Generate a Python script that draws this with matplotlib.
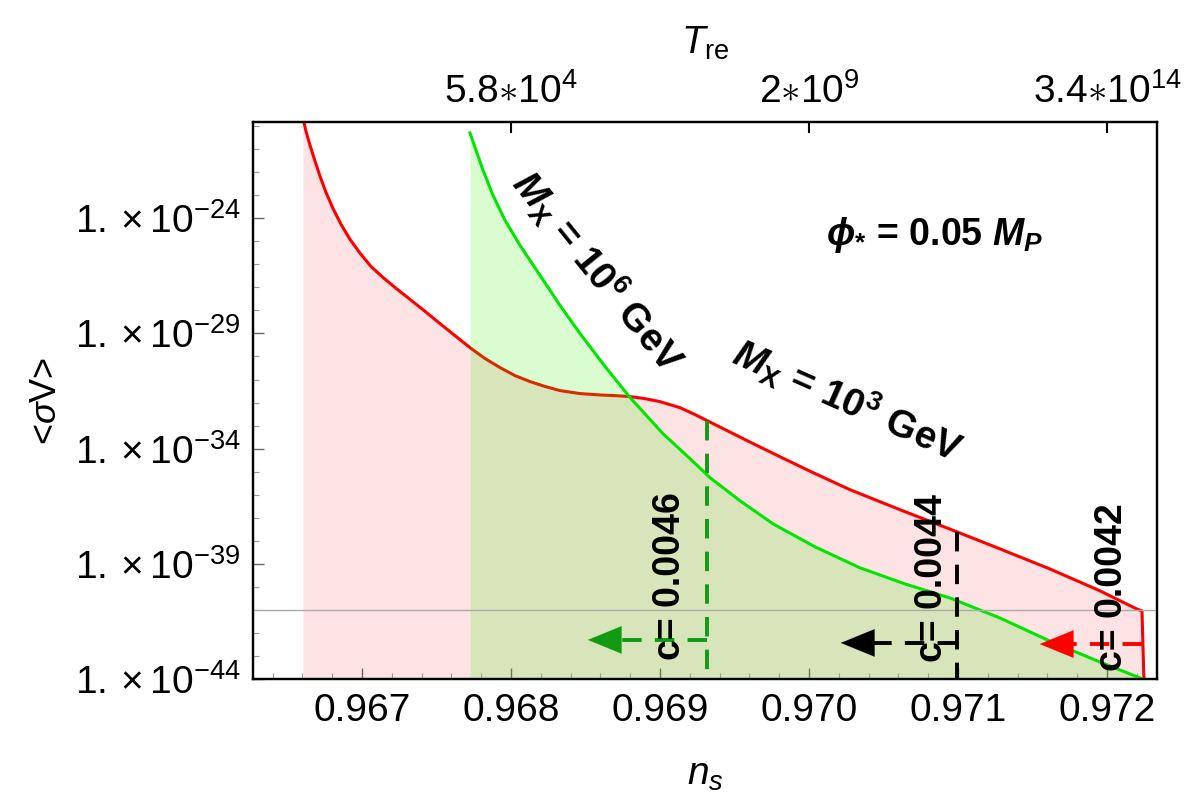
import numpy as np
import matplotlib
matplotlib.use("Agg")
import matplotlib.pyplot as plt
from matplotlib.ticker import FixedLocator, NullFormatter

plt.rcParams["font.family"] = ["Liberation Sans", "DejaVu Sans"]
plt.rcParams["mathtext.fontset"] = "custom"
plt.rcParams["mathtext.rm"] = "Liberation Sans"
plt.rcParams["mathtext.it"] = "Liberation Sans:italic"
plt.rcParams["mathtext.bf"] = "Liberation Sans:bold"
plt.rcParams["mathtext.bfit"] = "Liberation Sans:bold:italic"

# M_X = 10^3 GeV curve (red): n_s and log10 <sigma v>
ns_red = [0.966604, 0.966624, 0.966651, 0.966685, 0.966718, 0.966758, 0.966805,
          0.966859, 0.966919, 0.966987, 0.967060, 0.967141, 0.967228, 0.967322,
          0.967423, 0.967523, 0.967631, 0.967732, 0.967826, 0.967926, 0.968027,
          0.968128, 0.968228, 0.968329, 0.968463, 0.968597, 0.968698, 0.968799,
          0.968899, 0.969000, 0.969134, 0.969235, 0.969315, 0.969436, 0.969584,
          0.969805, 0.970027, 0.970275, 0.970611, 0.970993, 0.971282, 0.971617,
          0.971953, 0.972201, 0.972235, 0.972250]
log_sv_red = [-19.65, -20.22, -20.83, -21.52, -22.17, -22.87, -23.57,
              -24.26, -24.91, -25.52, -26.09, -26.57, -27.04, -27.52,
              -28.04, -28.57, -29.13, -29.65, -30.09, -30.48, -30.83,
              -31.09, -31.30, -31.48, -31.61, -31.67, -31.70, -31.74,
              -31.83, -31.96, -32.22, -32.52, -32.78, -33.17, -33.65,
              -34.35, -35.04, -35.78, -36.65, -37.61, -38.35, -39.22,
              -40.17, -40.96, -41.04, -44.50]

# M_X = 10^6 GeV curve (green)
ns_green = [0.967725, 0.967765, 0.967812, 0.967879, 0.967960, 0.968060, 0.968195,
            0.968329, 0.968463, 0.968631, 0.968799, 0.969020, 0.969201, 0.969336,
            0.969537, 0.969758, 0.970040, 0.970342, 0.970644, 0.970946, 0.971282,
            0.971617, 0.971953, 0.972242]
log_sv_green = [-20.30, -21.04, -21.91, -23.00, -24.09, -25.17, -26.48,
                -27.78, -29.00, -30.43, -31.78, -33.35, -34.43, -35.26,
                -36.26, -37.26, -38.26, -39.17, -39.87, -40.48, -41.35,
                -42.35, -43.26, -44.00]

# c-value markers: n_s position, arrow tip, arrow height, label
c_labels = ["c= 0.0046", "c= 0.0044", "c= 0.0042"]
c_ns = [0.969315, 0.970993, 0.972235]
c_top = [-32.78, -37.61, None]
c_tip = [0.968497, 0.970195, 0.971530]
c_arrow_log = [-42.30, -42.43, -42.48]
c_text_ns = [0.969067, 0.970826, 0.972034]
c_text_log = [-39.52, -39.61, -40.00]
c_colors = ["#139a13", "black", "red"]

bound_log = -41.0

x_ticks = [0.967, 0.968, 0.969, 0.970, 0.971, 0.972]
x_tick_labels = ["0.967", "0.968", "0.969", "0.970", "0.971", "0.972"]
y_tick_exps = [-24, -29, -34, -39, -44]
top_ticks = [0.968, 0.970, 0.972]
top_labels = [r"$5.8{\ast}10^{4}$", r"$2{\ast}10^{9}$", r"$3.4{\ast}10^{14}$"]

ns_r = np.array(ns_red)
sv_r = 10.0 ** np.array(log_sv_red)
ns_g = np.array(ns_green)
sv_g = 10.0 ** np.array(log_sv_green)

fig = plt.figure(figsize=(12, 7.98), dpi=100)
ax = fig.add_axes([0.2108, 0.149, 0.7534, 0.698])
ax.set_yscale("log")
ymin, ymax = 1e-44, 10 ** -19.83

# fillings
ax.fill_between(ns_r, sv_r, ymin / 10, color="#fde3e3", lw=0, zorder=1)
ax.plot(ns_r, sv_r, color="red", lw=2.2, zorder=2)
ax.fill_between(ns_g, sv_g, ymin / 10, color=(0.2, 0.94, 0.0), alpha=0.18,
                lw=0, zorder=3)
ax.plot(ns_g, sv_g, color="#00e600", lw=2.2, zorder=4)

ax.axhline(10 ** bound_log, color="#aaaaaa", lw=1.0, zorder=5)

# c markers
for lab, xv, top, tip, ya, tx, ty, col in zip(c_labels, c_ns, c_top, c_tip,
                                               c_arrow_log, c_text_ns,
                                               c_text_log, c_colors):
    if top is not None:
        ax.plot([xv, xv], [10 ** top, ymin], color=col, lw=2.8,
                dashes=(5, 3.4), zorder=6)
    ax.plot([xv, tip + 0.0001], [10 ** ya, 10 ** ya], color=col, lw=2.8,
            dashes=(5, 3.4), zorder=6)
    ax.annotate("", xy=(tip, 10 ** ya), xytext=(tip + 0.00021, 10 ** ya),
                arrowprops=dict(arrowstyle="-|>,head_length=1.1,head_width=0.45",
                                color=col, lw=0.1, mutation_scale=22),
                zorder=7)
    ax.text(tx, 10 ** ty, lab, rotation=90, fontsize=27, fontweight="bold",
            ha="center", va="center", zorder=8)

ax.text(0.968584, 10 ** -26.35,
        r"$\mathbfit{M}_{\mathbf{X}}$ = 10$^{\mathbf{6}}$ GeV",
        rotation=-51, fontsize=28, fontweight="bold",
        ha="center", va="center", zorder=8)
ax.text(0.970262, 10 ** -31.91,
        r"$\mathbfit{M}_{\mathbf{X}}$ = 10$^{\mathbf{3}}$ GeV",
        rotation=-24, fontsize=28, fontweight="bold",
        ha="center", va="center", zorder=8)
ax.text(0.970846, 10 ** -24.74,
        r"$\mathbfit{\phi}_{\mathbf{*}}$ = 0.05 $\mathbfit{M}_{\mathbfit{P}}$",
        fontsize=27, fontweight="bold", ha="center", va="center", zorder=8)

ax.set_xlim(0.9662685, 0.972336)
ax.set_ylim(ymin, ymax)

ax.xaxis.set_major_locator(FixedLocator(x_ticks))
ax.set_xticklabels(x_tick_labels)
ax.xaxis.set_minor_locator(FixedLocator(np.arange(0.9664, 0.9724, 0.0002)))
ax.yaxis.set_major_locator(FixedLocator([10.0 ** e for e in y_tick_exps]))
ax.set_yticklabels([r"$1.\times10^{%d}$" % e for e in y_tick_exps])
ax.yaxis.set_minor_locator(FixedLocator([10.0 ** e for e in range(-44, -19)]))
ax.yaxis.set_minor_formatter(NullFormatter())

ax.tick_params(axis="both", which="major", direction="in", labelsize=28,
               length=8, width=1, color="#666666")
ax.tick_params(axis="both", which="minor", direction="in", length=4,
               width=0.8, color="#999999")
ax.tick_params(axis="x", pad=10)
ax.tick_params(axis="y", pad=9)

for sp in ax.spines.values():
    sp.set_linewidth(1.6)

ax.set_xlabel(r"$n_s$", fontsize=28, labelpad=20)
ax.set_ylabel(r"<$\sigma$V>", fontsize=26, labelpad=8)

top = ax.twiny()
top.set_xlim(ax.get_xlim())
top.set_xticks(top_ticks)
top.set_xticklabels(top_labels)
top.tick_params(axis="x", direction="in", labelsize=28, length=8, width=1.5,
                pad=8)
top.set_xlabel(r"$T_{\rm re}$", fontsize=28, labelpad=14)
for sp in top.spines.values():
    sp.set_linewidth(1.6)

fig.savefig("out.png", dpi=100)
